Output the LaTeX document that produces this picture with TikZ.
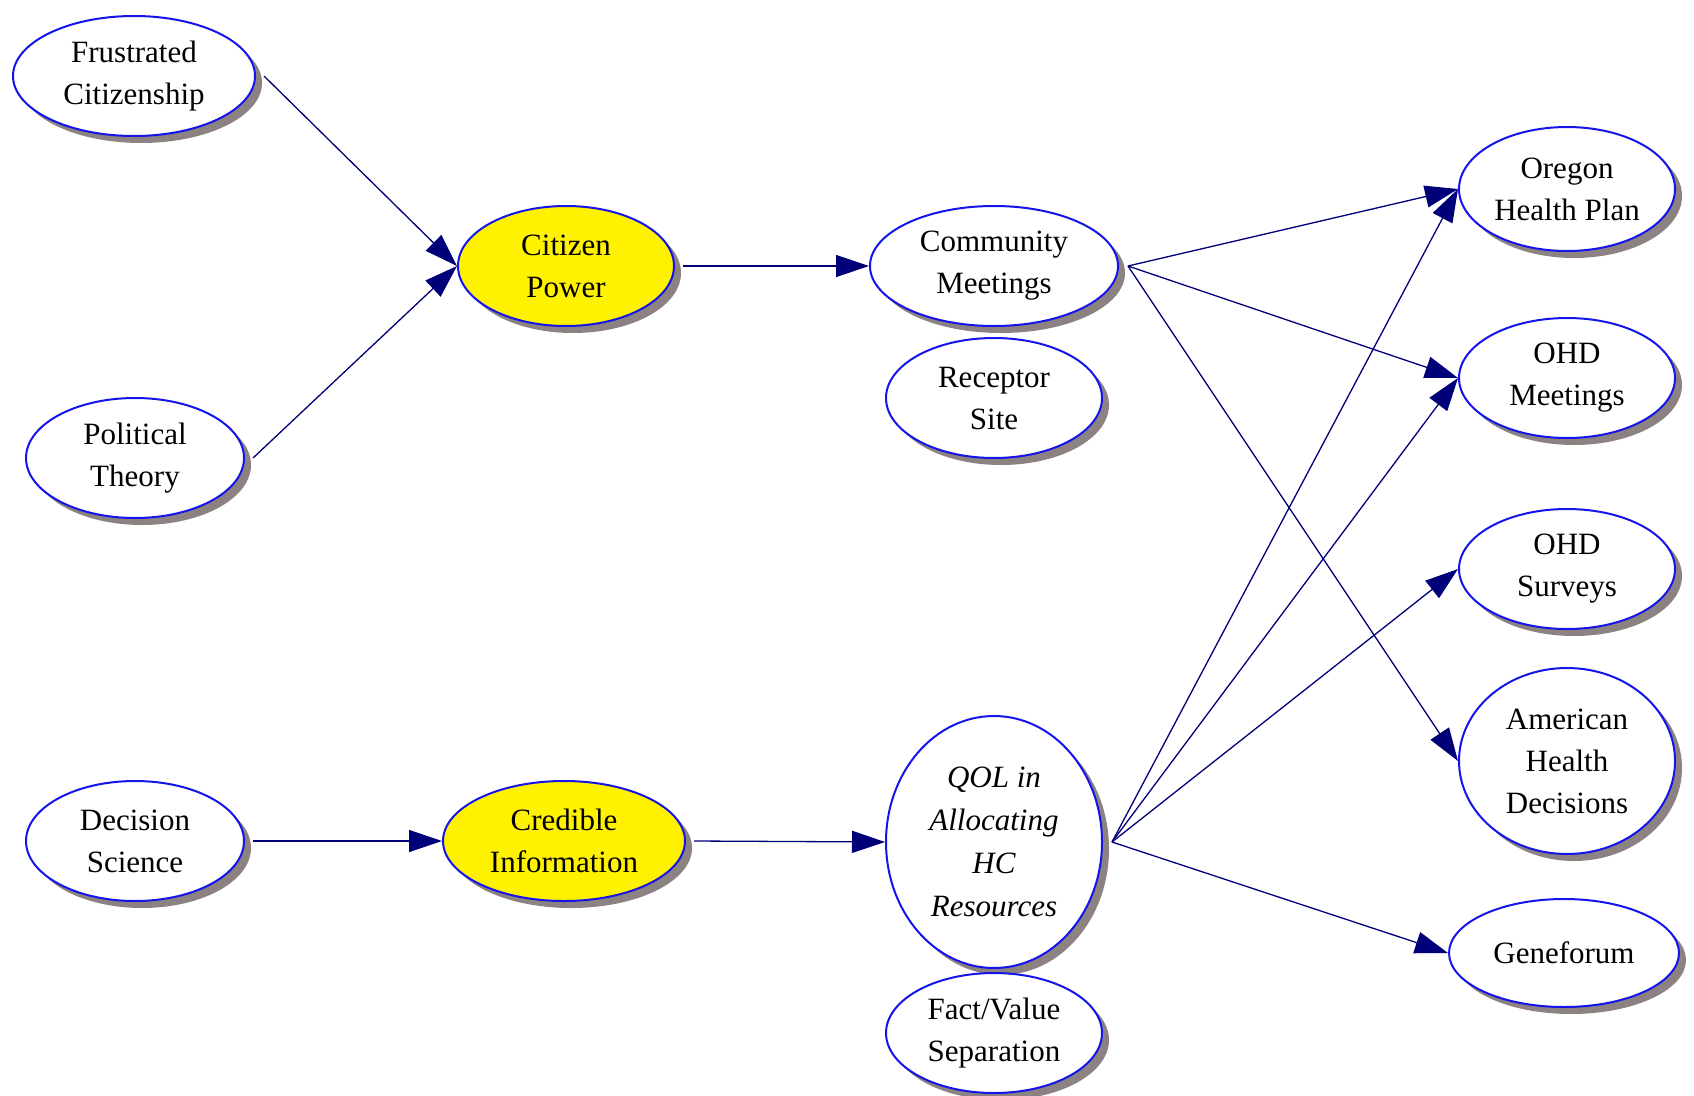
\documentclass[tikz,border=0pt]{standalone}
\usepackage{fontspec}
\setmainfont{Liberation Serif}
\usetikzlibrary{shapes.geometric,arrows.meta,shadows}
\definecolor{edgenavy}{RGB}{0,0,120}
\definecolor{nodeblue}{RGB}{20,20,235}
\definecolor{shadowgray}{RGB}{140,130,130}
\begin{document}
\begin{tikzpicture}[x=1pt,y=-1pt,
  concept/.style={ellipse, draw=nodeblue, line width=2pt, fill=white, inner sep=0pt,
    align=center, font=\fontsize{31}{42}\selectfont,
    drop shadow={shadow xshift=7pt, shadow yshift=-7pt, fill=shadowgray, opacity=1}},
  hot/.style={concept, fill=yellow},
  link/.style={draw=edgenavy, line width=1.3pt, -{Triangle[length=33pt,width=22pt]}}]
\useasboundingbox[fill=white] (0,0) rectangle (1694,1095);

\node[concept, minimum width=242pt, minimum height=120pt] (fc) at (134,76) {Frustrated\\Citizenship};
\node[concept, minimum width=218pt, minimum height=120pt] (pt) at (135,458) {Political\\Theory};
\node[hot, minimum width=216pt, minimum height=120pt] (cp) at (566,266) {Citizen\\Power};
\node[concept, minimum width=248pt, minimum height=120pt] (cm) at (994,266) {Community\\Meetings};
\node[concept, minimum width=216pt, minimum height=120pt] (rs) at (994,398) {Receptor\\Site};
\node[concept, minimum width=216pt, minimum height=124pt] (ohp) at (1567,189) {Oregon\\Health Plan};
\node[concept, minimum width=216pt, minimum height=120pt] (ohdm) at (1567,378) {OHD\\Meetings};
\node[concept, minimum width=216pt, minimum height=120pt] (ohds) at (1567,569) {OHD\\Surveys};
\node[concept, minimum width=216pt, minimum height=186pt] (ahd) at (1567,761) {American\\Health\\Decisions};
\node[concept, minimum width=230pt, minimum height=108pt] (gf) at (1564,953) {Geneforum};
\node[concept, minimum width=218pt, minimum height=120pt] (ds) at (135,841) {Decision\\Science};
\node[hot, minimum width=242pt, minimum height=120pt] (ci) at (564,841) {Credible\\Information};
\node[concept, minimum width=216pt, minimum height=252pt, font=\fontsize{31}{43}\selectfont\itshape] (qol) at (994,842) {QOL in\\Allocating\\HC\\Resources};
\node[concept, minimum width=216pt, minimum height=120pt] (fv) at (994,1033) {Fact/Value\\Separation};

\draw[link] ([xshift=8pt]fc.east) -- (cp.west);
\draw[link] ([xshift=8pt]pt.east) -- (cp.west);
\draw[link] ([xshift=8pt]cp.east) -- (cm.west);
\draw[link] ([xshift=9pt]cm.east) -- (ohp.west);
\draw[link] ([xshift=9pt]cm.east) -- (ohdm.west);
\draw[link] ([xshift=9pt]cm.east) -- (ahd.west);
\draw[link] ([xshift=8pt]ds.east) -- (ci.west);
\draw[link] ([xshift=8pt]ci.east) -- (qol.west);
\draw[link] ([xshift=9pt]qol.east) -- (ohp.west);
\draw[link] ([xshift=9pt]qol.east) -- (ohdm.west);
\draw[link] ([xshift=9pt]qol.east) -- (ohds.west);
\draw[link] ([xshift=9pt]qol.east) -- (gf.west);
\end{tikzpicture}
\end{document}
